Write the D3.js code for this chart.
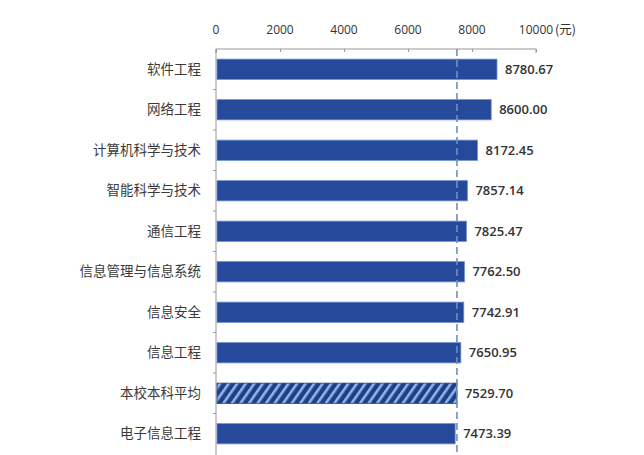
<!DOCTYPE html>
<html><head><meta charset="utf-8">
<script src="https://cdn.jsdelivr.net/npm/d3@7"></script>
<style>body{margin:0;background:#fff;}svg{display:block;}</style>
</head><body>
<svg id="c" width="644" height="455"></svg>
<script>
const categories = ["软件工程","网络工程","计算机科学与技术","智能科学与技术","通信工程","信息管理与信息系统","信息安全","信息工程","本校本科平均","电子信息工程"];
const values = [8780.67,8600.00,8172.45,7857.14,7825.47,7762.50,7742.91,7650.95,7529.70,7473.39];
const averageCategory = "本校本科平均";
const averageValue = 7529.70;
const tickValues = [0,2000,4000,6000,8000,10000];
const unitLabel = "(元)";

(function(){
const svg = d3.select("#c");
const L = 216, R = 536, T = 49, B = 454;
const x = d3.scaleLinear().domain([0,10000]).range([L,R]);
const y = d3.scaleBand().domain(categories).range([T,B]).paddingInner(0.5).paddingOuter(0.25);
const yb = d3.scaleBand().domain(categories).range([T,B]);

const defs = svg.append("defs");
const pat = defs.append("pattern").attr("id","hatch").attr("patternUnits","userSpaceOnUse")
  .attr("width",7).attr("height",7).attr("patternTransform","rotate(35)");
pat.append("rect").attr("width",7).attr("height",7).attr("fill","#1f4089");
pat.append("rect").attr("width",2.6).attr("height",7).attr("fill","#8fb6e6");

// top axis
const xAxis = d3.axisTop(x).tickValues(tickValues).tickSize(-3).tickPadding(0).tickFormat(()=> "");
const gx = svg.append("g").attr("transform",`translate(0,${T})`).call(xAxis);
gx.select(".domain").attr("stroke","#999").attr("d",`M${L},4V0H${R}V4`);
gx.selectAll(".tick line").attr("stroke","#999");
svg.selectAll(".xlab").data(tickValues).join("text")
  .attr("x",d=>x(d)).attr("y",34).attr("text-anchor","middle")
  .attr("font-family","Open Sans, sans-serif").attr("font-size",12).attr("fill","#333")
  .text(d=>d);
svg.append("text").attr("x",x(10000)+19).attr("y",34).attr("font-family","Noto Sans CJK SC, sans-serif")
  .attr("font-size",12.5).attr("fill","#333").text(unitLabel);

// left axis
const gy = svg.append("g").attr("transform",`translate(${L},0)`)
  .call(d3.axisLeft(yb).tickSize(0).tickFormat(()=>""));
gy.select(".domain").attr("stroke","#999").attr("d",`M0,${T}V${B+2}`);
svg.selectAll(".ytick").data(categories.slice(1)).join("line")
  .attr("x1",L-3).attr("x2",L).attr("y1",d=>yb(d)).attr("y2",d=>yb(d)).attr("stroke","#999");

// bars
svg.selectAll(".bar").data(categories).join("rect")
  .attr("x",x(0)+1).attr("y",d=>y(d)).attr("height",y.bandwidth())
  .attr("width",(d,i)=>x(values[i])-x(0)-1)
  .attr("fill",d=>d===averageCategory?"url(#hatch)":"#27499b")
  .attr("stroke",d=>d===averageCategory?"#1f3f86":"#6d8fcf").attr("stroke-width",0.8);

// average line
svg.append("line").attr("x1",x(averageValue)).attr("x2",x(averageValue))
  .attr("y1",T).attr("y2",455).attr("stroke","#6f8fbf").attr("stroke-width",1.6)
  .attr("stroke-dasharray","7,4");

// category labels
svg.selectAll(".cat").data(categories).join("text")
  .attr("x",201).attr("y",d=>y(d)+y.bandwidth()/2).attr("dy","0.35em")
  .attr("text-anchor","end").attr("font-family","Noto Sans CJK SC, sans-serif")
  .attr("font-size",13.5).attr("fill","#3a3a3a").text(d=>d);

// value labels
svg.selectAll(".val").data(categories).join("text")
  .attr("x",(d,i)=>x(values[i])+8).attr("y",d=>y(d)+y.bandwidth()/2).attr("dy","0.36em")
  .attr("font-family","Open Sans, sans-serif").attr("font-weight","600")
  .attr("font-size",13).attr("fill","#333").text((d,i)=>values[i].toFixed(2));
})();
</script>
</body></html>
